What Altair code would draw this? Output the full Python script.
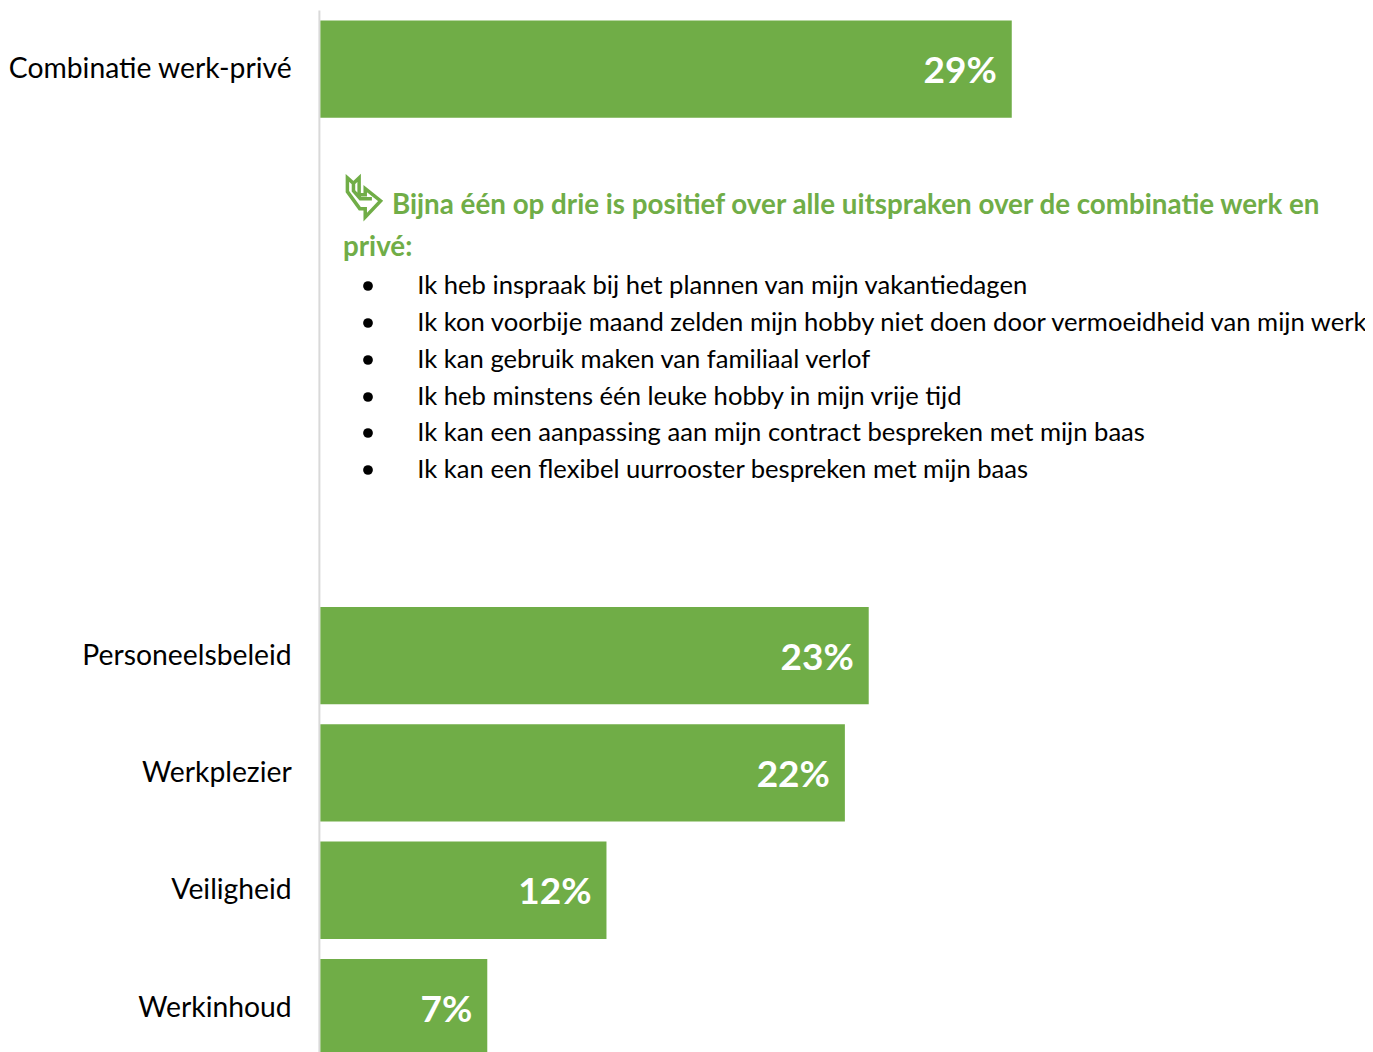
import altair as alt
import pandas as pd

FONT = "Lato"
GREEN = "#70AD47"

categories = ["Combinatie werk-privé", "_a", "_b", "_c", "_d", "Personeelsbeleid", "Werkplezier", "Veiligheid", "Werkinhoud"]
values = [29, None, None, None, None, 23, 22, 12, 7]
labels = ["29%", "", "", "", "", "23%", "22%", "12%", "7%"]

heading_lines = ["Bijna één op drie is positief over alle uitspraken over de combinatie werk en", "privé:"]
bullets = [
    "Ik heb inspraak bij het plannen van mijn vakantiedagen",
    "Ik kon voorbije maand zelden mijn hobby niet doen door vermoeidheid van mijn werk",
    "Ik kan gebruik maken van familiaal verlof",
    "Ik heb minstens één leuke hobby in mijn vrije tijd",
    "Ik kan een aanpassing aan mijn contract bespreken met mijn baas",
    "Ik kan een flexibel uurrooster bespreken met mijn baas",
]

LEFT = 312.4   # svg-x of the bars' base
TOP = 2
bullet_y = [286 - 8 - TOP, 323 - 8 - TOP, 360 - 8 - TOP, 397 - 8 - TOP, 433 - 8 - TOP, 470 - 8 - TOP]

df = pd.DataFrame({"cat": categories, "val": values, "label": labels})
bars_df = df[df["val"].notna()]

PLOT_W = 1357 - LEFT
PLOT_H = 1044 - TOP
step = 117.3
x_scale = alt.Scale(domain=[0, PLOT_W / 23.84], nice=False, zero=True)
y_scale = alt.Scale(domain=categories, paddingInner=20 / step, paddingOuter=10.5 / step,
                    range=[0, step * 9 + 1], round=False)

y_enc = alt.Y("cat:N", scale=y_scale, sort=categories, title=None,
              axis=alt.Axis(labelExpr="indexof(datum.label,'_')==0 ? '' : datum.label",
                            labelFont=FONT, labelFontSize=28.3, labelColor="black", labelPadding=27.7,
                            labelOffset=1, offset=1.5,
                            ticks=False, domainColor="#D9D9D9", domainWidth=2, grid=False,
                            labelLimit=320))

bars = alt.Chart(bars_df).mark_bar(color=GREEN, clip=False).encode(
    x=alt.X("val:Q", scale=x_scale, axis=None), y=y_enc)
text = alt.Chart(bars_df).mark_text(align="right", dx=-15, dy=3, font=FONT, fontSize=37, fontWeight="bold", color="white").encode(
    x=alt.X("val:Q", scale=x_scale, axis=None), y=alt.Y("cat:N", scale=y_scale, sort=categories), text="label:N")

heading_df = pd.DataFrame({"t": heading_lines, "x": [392 - 8 - LEFT, 343 - 8 - LEFT], "y": [206 - 8 - TOP, 248 - 8 - TOP]})
heading = alt.Chart(heading_df).mark_text(align="left", baseline="middle", font=FONT, fontSize=27.75, fontWeight="bold", color=GREEN).encode(
    x=alt.X("x:Q", scale=None), y=alt.Y("y:Q", scale=None), text="t:N")

b_df = pd.DataFrame({"t": bullets, "y": bullet_y})
b_text = alt.Chart(b_df).mark_text(align="left", baseline="middle", font=FONT, fontSize=25.6, color="black").encode(
    x=alt.value(417.3 - 8 - LEFT), y=alt.Y("y:Q", scale=None), text="t:N")
b_dots = alt.Chart(b_df).mark_point(filled=True, color="black", size=95, opacity=1).encode(
    x=alt.value(368 - 8 - LEFT), y=alt.Y("y:Q", scale=None))

icon_path = ("M-0.82,-0.97 L-0.52,-0.70 L-0.24,-0.97 L-0.24,-0.14 L0.06,-0.14 L0.06,-0.44 L0.82,0.17 L0.06,0.97 L0.06,0.55 "
             "L-0.21,0.55 L-0.82,-0.29 Z "
             "M-0.52,-0.70 L-0.52,-0.33 L-0.18,0.06 L0.39,0.06")
icon = alt.Chart(pd.DataFrame({"x": [364 - 8 - LEFT], "y": [197.5 - 8 - TOP]})).mark_point(shape=icon_path, size=1640, filled=False, color=GREEN, strokeWidth=3.5, opacity=1).encode(
    x=alt.X("x:Q", scale=None), y=alt.Y("y:Q", scale=None))

chart = alt.layer(bars, text, heading, icon, b_text, b_dots).properties(
    width=PLOT_W, height=PLOT_H, padding={"left": LEFT, "top": TOP, "right": 0, "bottom": 0},
    autosize=alt.AutoSizeParams(type="none")
).configure_view(stroke=None)

chart.save("out.html", embed_options={"renderer": "svg", "actions": False})
